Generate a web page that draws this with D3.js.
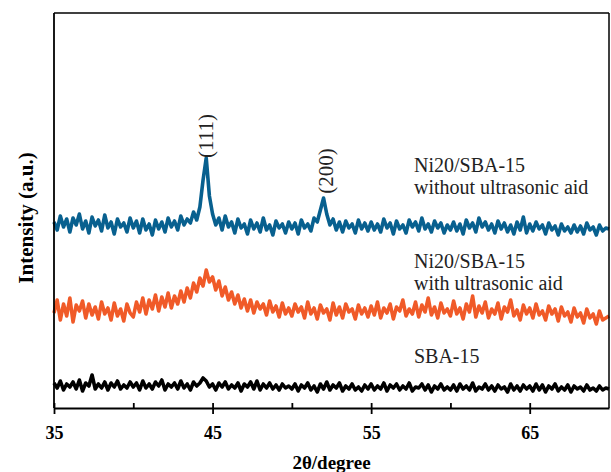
<!DOCTYPE html>
<html>
<head>
<meta charset="utf-8">
<script src="https://cdn.jsdelivr.net/npm/d3@7"></script>
<style>
  body { margin: 0; background: #fff; }
  text { font-family: "Liberation Serif", "Times New Roman", serif; }
</style>
</head>
<body>
<svg id="chart" width="611" height="472"></svg>
<script>
// 2θ grid: 35° to 70° in 0.2° steps
const thetaStart = 35;
const thetaStep = 0.2;

// intensities (a.u., stacked offsets included)
const sba15 = [
  25,20,27,18,24,21,26,19,28,17,25,22,33,19,24,20,26,18,25,21,27,19,23,20,26,
  21,25,18,27,20,24,19,26,22,28,18,24,21,25,19,27,20,24,18,26,22,25,30,27,21,
  24,18,25,21,26,19,23,20,25,17,24,21,26,19,27,18,24,20,25,19,23,18,24,20,22,
  19,24,17,23,20,25,18,22,16,24,19,26,18,23,20,25,17,22,19,24,18,21,17,23,19,
  24,18,22,19,25,17,23,20,24,18,22,19,25,17,21,20,24,18,23,16,22,19,24,18,21,
  18,23,17,24,19,22,18,25,17,21,19,24,18,22,17,23,19,21,16,24,18,22,17,23,19,
  22,17,24,18,23,16,22,19,24,17,21,18,23,16,22,19,21,17,23,18,20,17,22,18,20,
  19
];

const withUltrasonic = [
  95,108,88,104,92,110,86,103,97,107,90,104,93,101,89,106,94,100,88,105,92,99,87,104,95,
  91,106,96,110,94,108,99,113,97,111,101,115,100,112,104,117,106,120,110,125,116,130,122,138,126,
  131,118,127,112,121,108,116,104,113,100,109,97,108,95,106,99,104,93,107,96,102,91,105,94,100,
  92,104,96,101,90,106,94,100,89,103,95,99,88,105,93,101,90,104,96,99,89,103,94,100,91,
  102,93,106,90,100,95,104,89,101,97,108,92,99,94,106,91,103,96,110,93,101,90,105,95,99,
  92,107,94,100,89,104,96,112,91,102,95,106,90,99,94,105,89,101,96,108,92,98,88,103,94,
  100,90,104,93,97,88,102,94,99,87,101,92,96,86,100,91,95,85,99,90,94,84,97,88,90,
  92
];

const withoutUltrasonic = [
  186,178,192,181,189,176,190,183,194,179,187,175,191,182,188,177,193,180,186,174,189,181,185,176,190,
  180,187,175,189,178,184,173,188,179,186,176,190,181,187,178,192,183,189,185,196,188,201,228,250,212,
  194,183,190,178,192,181,186,175,189,180,184,174,188,179,185,176,190,178,183,173,187,180,184,175,186,
  179,185,174,188,180,184,177,190,186,198,210,194,183,189,178,186,176,187,180,184,175,188,179,185,177,
  186,178,184,176,189,180,185,174,187,179,183,175,188,181,186,177,190,179,184,176,187,180,185,175,183,
  178,186,177,184,174,188,180,185,176,190,181,186,178,184,175,187,179,185,176,183,174,186,178,191,175,
  184,177,186,179,183,174,185,178,182,173,184,177,181,175,183,176,182,174,185,178,181,173,183,177,180,
  179
];

const majorTicks = [35, 45, 55, 65];
const minorTicks = [40, 50, 60];

const series = [
  { name: "SBA-15", values: sba15, color: "#000000" },
  { name: "with", values: withUltrasonic, color: "#f05a28" },
  { name: "without", values: withoutUltrasonic, color: "#08608f" }
];

const labels = [
  { lines: ["Ni20/SBA-15", "without ultrasonic aid"], theta: 57.7, y: 236 },
  { lines: ["Ni20/SBA-15", "with ultrasonic aid"], theta: 57.7, y: 140 },
  { lines: ["SBA-15"], theta: 57.7, y: 45 }
];

// label anchor: theta at text baseline, y at text centre
const peaks = [
  { text: "(111)", theta: 45.0, y: 272 },
  { text: "(200)", theta: 52.6, y: 237 }
];

const svg = d3.select("#chart");
const margin = { top: 13, right: 2, bottom: 64, left: 54 };
const width = 611 - margin.left - margin.right;
const height = 472 - margin.top - margin.bottom;

const x = d3.scaleLinear().domain([35, 70]).range([0, width]);
const y = d3.scaleLinear().domain([0, 395]).range([height, 0]);

const g = svg.append("g").attr("transform", `translate(${margin.left},${margin.top})`);

const line = d3.line()
  .x((d, i) => x(thetaStart + i * thetaStep))
  .y(d => y(d));

series.forEach(s => {
  g.append("path")
    .datum(s.values)
    .attr("fill", "none")
    .attr("stroke", s.color)
    .attr("stroke-width", 3.6)
    .attr("stroke-linejoin", "round")
    .attr("d", line);
});

// frame: top and right thin, left and bottom axis heavier
g.append("line").attr("x1", 0).attr("x2", width).attr("y1", 0).attr("y2", 0)
  .attr("stroke", "#000").attr("stroke-width", 1.5);
g.append("line").attr("x1", width).attr("x2", width).attr("y1", 0).attr("y2", height)
  .attr("stroke", "#000").attr("stroke-width", 1.5);
g.append("line").attr("x1", 0).attr("x2", 0).attr("y1", 0).attr("y2", height)
  .attr("stroke", "#000").attr("stroke-width", 1.8);

const xAxis = g.append("g")
  .attr("transform", `translate(0,${height})`)
  .call(d3.axisBottom(x).tickValues(majorTicks).tickSize(6).tickPadding(12).tickSizeOuter(0));
xAxis.select(".domain").attr("stroke-width", 1.8);
xAxis.selectAll(".tick line").attr("y1", -5).attr("y2", 6).attr("stroke-width", 1.8);
xAxis.selectAll(".tick text")
  .attr("font-family", "Liberation Serif, Times New Roman, serif")
  .attr("font-size", 18)
  .attr("font-weight", "bold")
  .attr("fill", "#000");

const xMinor = g.append("g")
  .attr("transform", `translate(0,${height})`)
  .call(d3.axisBottom(x).tickValues(minorTicks).tickSize(-5).tickFormat(""));
xMinor.select(".domain").remove();
xMinor.selectAll(".tick line").attr("stroke-width", 1.8);

// axis titles
svg.append("text")
  .attr("x", margin.left + x(52.5))
  .attr("y", 469)
  .attr("text-anchor", "middle")
  .attr("font-size", 19)
  .attr("font-weight", "bold")
  .text("2θ/degree");

svg.append("text")
  .attr("transform", `translate(33,218) rotate(-90)`)
  .attr("text-anchor", "middle")
  .attr("font-size", 21)
  .attr("font-weight", "bold")
  .text("Intensity (a.u.)");

// sample labels
labels.forEach(l => {
  const t = g.append("text")
    .attr("x", x(l.theta))
    .attr("y", y(l.y))
    .attr("font-size", 20)
    .attr("fill", "#222");
  l.lines.forEach((s, i) => {
    t.append("tspan").attr("x", x(l.theta)).attr("dy", i === 0 ? 0 : 22).text(s);
  });
});

// peak labels, rotated
peaks.forEach(p => {
  g.append("text")
    .attr("transform", `translate(${x(p.theta)},${y(p.y)}) rotate(-90)`)
    .attr("text-anchor", "middle")
    .attr("font-size", 21)
    .attr("fill", "#222")
    .text(p.text);
});
</script>
</body>
</html>
